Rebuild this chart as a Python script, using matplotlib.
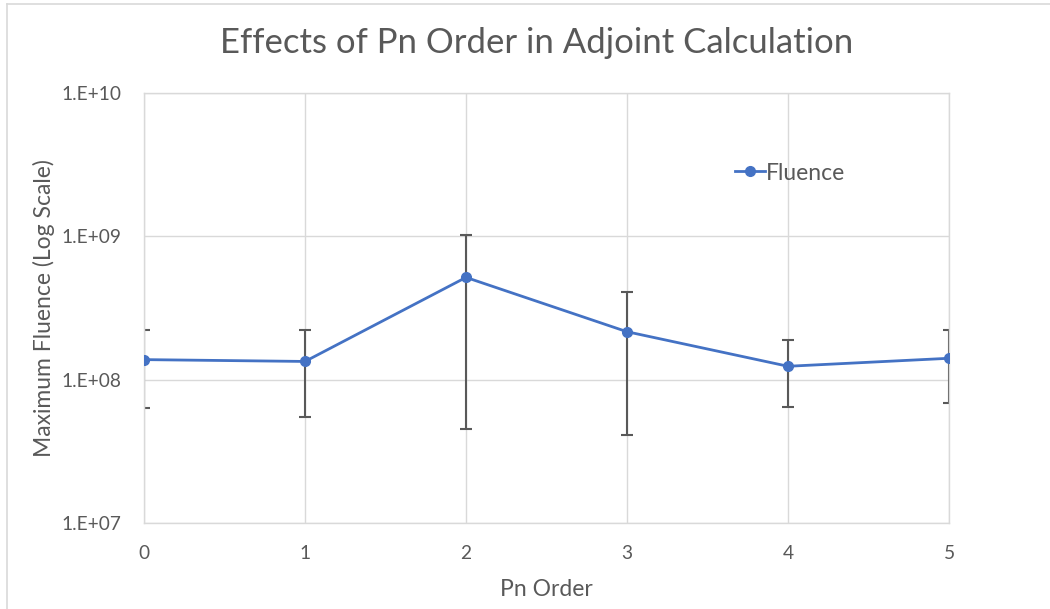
import matplotlib
matplotlib.use("Agg")
import matplotlib.pyplot as plt
from matplotlib.lines import Line2D
from matplotlib.ticker import FixedLocator, NullLocator, FuncFormatter
import numpy as np

plt.rcParams['font.family'] = ['Lato', 'DejaVu Sans']

pn_order = [0, 1, 2, 3, 4, 5]
fluence = [1.38e8, 1.34e8, 5.17e8, 2.16e8, 1.24e8, 1.41e8]
err_upper = [2.21e8, 2.21e8, 1.02e9, 4.10e8, 1.90e8, 2.21e8]
err_lower = [6.36e7, 5.50e7, 4.52e7, 4.10e7, 6.45e7, 6.86e7]
y_ticks = [1e7, 1e8, 1e9, 1e10]

TXT = '#595959'
GRID = '#D9D9D9'
BLUE = '#4472C4'

fig = plt.figure(figsize=(10.5, 6.09), dpi=100)
ax = fig.add_axes([144/1050, 1-523/609, 805/1050, 430/609])

f = np.array(fluence)
yerr = np.vstack([f - np.array(err_lower), np.array(err_upper) - f])
ax.errorbar(pn_order, fluence, yerr=yerr, fmt='none', ecolor='#595959',
            elinewidth=1.5, capsize=4, capthick=1.5, zorder=2)
ax.plot(pn_order, fluence, color=BLUE, lw=2, marker='o', ms=7, zorder=3)

ax.set_yscale('log')
ax.set_ylim(1e7, 1e10)
ax.set_xlim(0, 5)
ax.yaxis.set_major_locator(FixedLocator(y_ticks))
ax.yaxis.set_minor_locator(NullLocator())
ax.yaxis.set_major_formatter(FuncFormatter(lambda v, p: "1.E+%02d" % int(round(np.log10(v)))))
ax.set_xticks(pn_order)

ax.grid(True, color=GRID, lw=1, zorder=0)
for s in ax.spines.values():
    s.set_color(GRID)
    s.set_linewidth(1)
ax.tick_params(axis='both', length=0, colors=TXT, labelsize=13.8)
ax.tick_params(axis='y', pad=16)
ax.tick_params(axis='x', pad=16)

ax.set_xlabel('Pn Order', fontsize=16.5, color=TXT, labelpad=12)
ax.set_ylabel('Maximum Fluence (Log Scale)', fontsize=16.5, color=TXT, labelpad=5)
fig.text(537/1050, 1-43/609, 'Effects of Pn Order in Adjoint Calculation',
         fontsize=25, color=TXT, ha='center', va='center')

handle = Line2D([], [], color=BLUE, lw=2, marker='o', ms=7)
leg = ax.legend([handle], ['Fluence'], loc='center left',
                bbox_to_anchor=((735-144)/805, (523-173)/430),
                frameon=False, fontsize=16.5, handlelength=1.3,
                handletextpad=0.05, borderaxespad=0, borderpad=0)
for t in leg.get_texts():
    t.set_color(TXT)

# outer chart border
fig.add_artist(Line2D([7/1050, 7/1050], [0, 1-4/609], color=GRID, lw=1.2, transform=fig.transFigure))
fig.add_artist(Line2D([7/1050, 1], [1-4/609, 1-4/609], color=GRID, lw=1.2, transform=fig.transFigure))

fig.savefig('out.png', dpi=100)
